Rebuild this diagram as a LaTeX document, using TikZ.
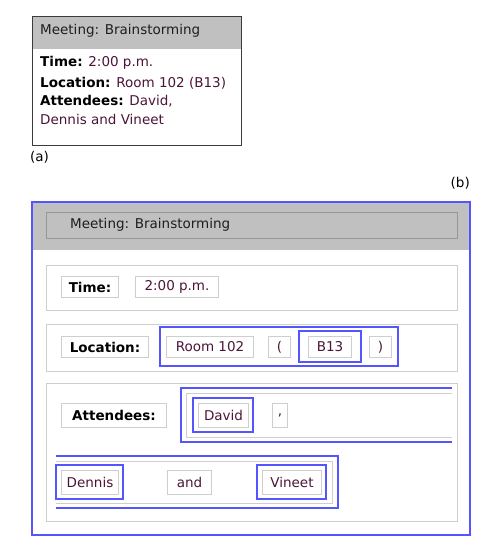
\documentclass[tikz,border=0pt]{standalone}
\usepackage{fontspec}
\setmainfont{DejaVu Sans}
\usepackage{tikz}

\definecolor{hdrgray}{RGB}{192,192,192}
\definecolor{cellgray}{RGB}{206,206,206}
\definecolor{hdrline}{RGB}{150,150,150}
\definecolor{framegray}{RGB}{60,60,60}
\definecolor{grpblue}{RGB}{85,85,255}
\definecolor{valtext}{RGB}{75,20,55}
\definecolor{hdrtext}{RGB}{30,30,30}

\begin{document}
\begin{tikzpicture}[x=1pt,y=-1pt,
  txt/.style={inner sep=0pt,font=\fontsize{13.5}{16}\selectfont},
  cell/.style={txt,draw=cellgray,line width=1pt,anchor=north west,text=valtext},
  lab/.style={cell,font=\fontsize{13.5}{16}\selectfont\bfseries,text=black},
  row/.style={draw=cellgray,line width=1pt,anchor=north west,inner sep=0pt},
  grp/.style={draw=grpblue,line width=1.2pt}]
  \useasboundingbox (0,0) rectangle (492,552);

  % (a) the plain card
  \fill[hdrgray] (32,16) rectangle (241,49);
  \draw[framegray,line width=1pt] (32,16) rectangle (241,145);
  \node (atitle) at (40,31) [txt,anchor=west,text=hdrtext] {Meeting: Brainstorming};
  \node (atime) at (40,63) [txt,anchor=west] {\textbf{Time:} \textcolor{valtext}{2:00 p.m.}};
  \node (aloc) at (40,83) [txt,anchor=west] {\textbf{Location:} \textcolor{valtext}{Room 102 (B13)}};
  \node (aatt) at (40,101) [txt,anchor=west] {\textbf{Attendees:} \textcolor{valtext}{David,}};
  \node (aatt2) at (40,119) [txt,anchor=west,text=valtext] {Dennis and Vineet};
  \node (alabel) at (30,157) [txt,anchor=west] {(a)};

  % (b) the same card as nested boxes
  \node (blabel) at (470,183) [txt,anchor=east] {(b)};
  \fill[hdrgray] (32,202) rectangle (470,250);
  \draw[grp,line width=1.3pt] (32,202) rectangle (470,535);
  \node (bhead) at (46,212) [row,draw=hdrline,minimum width=411,minimum height=26] {};
  \node (btitle) at (70,225) [txt,anchor=west,text=hdrtext] {Meeting: Brainstorming};

  \node (timerow) at (46,265) [row,minimum width=411,minimum height=45] {};
  \node (timelab) at (61,276) [lab,minimum width=57,minimum height=21] {Time:};
  \node (timeval) at (135,276) [cell,minimum width=83,minimum height=21] {2:00 p.m.};

  \node (locrow) at (46,324) [row,minimum width=411,minimum height=47] {};
  \node (loclab) at (61,336) [lab,minimum width=87,minimum height=21] {Location:};
  \node (room) at (166,336) [cell,minimum width=87,minimum height=21] {Room 102};
  \node (lpar) at (268,336) [cell,minimum width=22,minimum height=21] {(};
  \node (b13) at (308,336) [cell,minimum width=43,minimum height=21] {B13};
  \node (rpar) at (369,336) [cell,minimum width=22,minimum height=21] {)};
  \draw[grp] (160,327) rectangle (398,366);
  \draw[grp] (299,331) rectangle (361,362);

  \node (attrow) at (46,383) [row,minimum width=411,minimum height=138] {};
  \node (attlab) at (61,403) [lab,minimum width=105,minimum height=24] {Attendees:};
  \draw[cellgray,line width=1pt] (452,393) -- (186,393) -- (186,437) -- (452,437);
  \draw[grp] (452,388) -- (181,388) -- (181,442) -- (452,442);
  \node (david) at (198,403) [cell,minimum width=50,minimum height=24] {David};
  \node (comma) at (272,403) [cell,minimum width=15,minimum height=24] {,};
  \draw[grp] (193,398) rectangle (253,432);

  \draw[cellgray,line width=1pt] (56,461) -- (332,461) -- (332,503) -- (56,503);
  \draw[grp] (56,456) -- (338,456) -- (338,508) -- (56,508);
  \node (dennis) at (61,470) [cell,minimum width=57,minimum height=24] {Dennis};
  \node (and) at (167,470) [cell,minimum width=44,minimum height=24] {and};
  \node (vineet) at (262,470) [cell,minimum width=59,minimum height=24] {Vineet};
  \draw[grp] (56,465) rectangle (123,499);
  \draw[grp] (257,465) rectangle (326,499);
\end{tikzpicture}
\end{document}
